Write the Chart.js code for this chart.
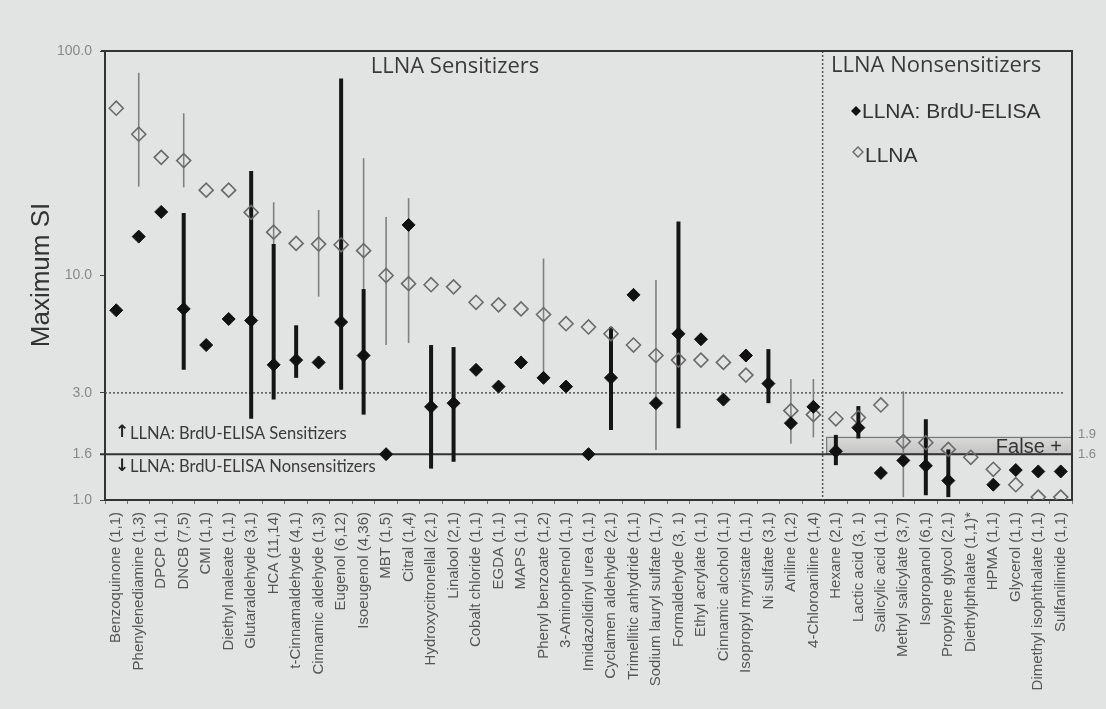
<!DOCTYPE html>
<html>
<head>
<meta charset="utf-8">
<script src="https://cdn.jsdelivr.net/npm/chart.js@4.4.0/dist/chart.umd.min.js"></script>
<style>
  html, body { margin: 0; padding: 0; background: #e2e4e3; }
  #wrap { width: 1106px; height: 709px; }
</style>
</head>
<body>
<div id="wrap"><canvas id="siChart" width="1106" height="709"></canvas></div>
<script>
// Substances (n BrdU-ELISA tests, n LLNA tests)
const categories = [
  'Benzoquinone (1,1)', 'Phenylenediamine (1,3)', 'DPCP (1,1)', 'DNCB (7,5)', 'CMI (1,1)',
  'Diethyl maleate (1,1)', 'Glutaraldehyde (3,1)', 'HCA (11,14)', 't-Cinnamaldehyde (4,1)',
  'Cinnamic aldehyde (1,3)', 'Eugenol (6,12)', 'Isoeugenol (4,36)', 'MBT (1,5)', 'Citral (1,4)',
  'Hydroxycitronellal (2,1)', 'Linalool (2,1)', 'Cobalt chloride (1,1)', 'EGDA (1,1)', 'MAPS (1,1)',
  'Phenyl benzoate (1,2)', '3-Aminophenol (1,1)', 'Imidazolidinyl urea (1,1)', 'Cyclamen aldehyde (2,1)',
  'Trimellitic anhydride (1,1)', 'Sodium lauryl sulfate (1,7)', 'Formaldehyde (3, 1)', 'Ethyl acrylate (1,1)',
  'Cinnamic alcohol (1,1)', 'Isopropyl myristate (1,1)', 'Ni sulfate (3,1)', 'Aniline (1,2)',
  '4-Chloroaniline (1,4)', 'Hexane (2,1)', 'Lactic acid (3, 1)', 'Salicylic acid (1,1)',
  'Methyl salicylate (3,7)', 'Isopropanol (6,1)', 'Propylene glycol (2,1)', 'Diethylpthalate (1,1)*',
  'HPMA (1,1)', 'Glycerol (1,1)', 'Dimethyl isophthalate (1,1)', 'Sulfanilimide (1,1)'
];

// LLNA: BrdU-ELISA max SI (filled)
const brduSI = [7.0, 14.9, 19.2, 7.1, 4.9, 6.4, 6.3, 4.0, 4.2, 4.1, 6.2, 4.4, 1.6, 16.8, 2.6, 2.7, 3.8, 3.2, 4.1, 3.5,
  3.2, 1.6, 3.5, 8.2, 2.7, 5.5, 5.2, 2.8, 4.4, 3.3, 2.2, 2.6, 1.65, 2.1, 1.32, 1.5, 1.42, 1.22, null, 1.17, 1.36, 1.34, 1.34];
// LLNA max SI (open)
const llnaSI = [55.6, 42.6, 33.6, 32.5, 24.0, 24.0, 19.1, 15.6, 13.9, 13.8, 13.7, 12.9, 10.0, 9.2, 9.1, 8.9, 7.6, 7.4, 7.1, 6.7,
  6.1, 5.9, 5.5, 4.9, 4.4, 4.2, 4.2, 4.1, 3.6, null, 2.5, 2.4, 2.3, 2.33, 2.65, 1.82, 1.80, 1.68, 1.55, 1.37, 1.17, 1.03, 1.03];

// ranges (null = single test)
const brduLow = [null, null, null, 3.8, null, null, 2.3, 2.8, 3.5, null, 3.1, 2.4, null, null, 1.38, 1.48, null, null, null, null,
  null, null, 2.05, null, null, 2.09, null, null, null, 2.7, null, null, 1.43, 1.88, null, null, 1.05, 1.03, null, null, null, null, null];
const brduHigh = [null, null, null, 19.0, null, null, 29.2, 13.8, 6.0, null, 75.5, 8.7, null, null, 4.9, 4.8, null, null, null, null,
  null, null, 5.9, null, null, 17.4, null, null, null, 4.7, null, null, 1.95, 2.62, null, null, 2.29, 1.68, null, null, null, null, null];
const llnaLow = [null, 24.9, null, 24.7, null, null, null, 11.0, null, 8.05, null, 8.0, 4.9, 5.0, null, null, null, null, null, 3.5,
  null, null, null, null, 1.67, null, null, null, null, null, 1.78, 1.90, null, null, null, 1.03, null, null, null, null, null, null, null];
const llnaHigh = [null, 80.0, null, 52.8, null, null, null, 21.2, null, 19.6, null, 33.3, 18.2, 22.1, null, null, null, null, null, 11.9,
  null, null, null, null, 9.55, null, null, null, null, null, 3.46, 3.46, null, null, null, 3.05, null, null, null, null, null, null, null];

const yTicks = [1.0, 1.6, 3.0, 10.0, 100.0];
const sensCutoff = 3.0;
const nonsensCutoff = 1.6;
const falsePosTop = 1.9;
const lastSensitizer = 31;

// boxes and reference lines under the points
const decor = {
  id: 'decor',
  beforeDatasetsDraw(chart) {
    const { ctx, chartArea: a, scales: { x, y } } = chart;
    const xb = (x.getPixelForValue(lastSensitizer) + x.getPixelForValue(lastSensitizer + 1)) / 2 - 2;
    ctx.save();
    // False + band
    const yTop = y.getPixelForValue(falsePosTop), yBot = y.getPixelForValue(nonsensCutoff);
    const g = ctx.createLinearGradient(0, yTop, 0, yBot);
    g.addColorStop(0, '#d9d9d8');
    g.addColorStop(1, '#c2c3c2');
    ctx.fillStyle = g;
    ctx.fillRect(xb + 4, yTop, a.right - xb - 4, yBot - yTop);
    ctx.strokeStyle = '#777';
    ctx.lineWidth = 1.2;
    ctx.strokeRect(xb + 4, yTop, a.right - xb - 4, yBot - yTop);
    // 3.0 dotted
    ctx.setLineDash([2, 2]);
    ctx.strokeStyle = '#555';
    ctx.lineWidth = 1.5;
    ctx.beginPath();
    ctx.moveTo(a.left, y.getPixelForValue(sensCutoff));
    ctx.lineTo(a.right - 7, y.getPixelForValue(sensCutoff));
    ctx.stroke();
    // vertical divider
    ctx.beginPath();
    ctx.moveTo(xb, a.top);
    ctx.lineTo(xb, a.bottom);
    ctx.stroke();
    ctx.setLineDash([]);
    // 1.6 solid
    ctx.strokeStyle = '#333';
    ctx.lineWidth = 2;
    ctx.beginPath();
    ctx.moveTo(a.left - 5, yBot);
    ctx.lineTo(a.right, yBot);
    ctx.stroke();
    // frame top / right
    ctx.beginPath();
    ctx.moveTo(a.left - 4, a.top);
    ctx.lineTo(a.right, a.top);
    ctx.lineTo(a.right, a.bottom);
    ctx.stroke();
    ctx.restore();
  }
};

const errorBars = {
  id: 'errorBars',
  beforeDatasetsDraw(chart) {
    const { ctx, scales: { x, y } } = chart;
    const draw = (lo, hi, color, w) => {
      lo.forEach((l, i) => {
        if (l == null) return;
        const px = x.getPixelForValue(i);
        ctx.beginPath();
        ctx.moveTo(px, y.getPixelForValue(l));
        ctx.lineTo(px, y.getPixelForValue(hi[i]));
        ctx.strokeStyle = color;
        ctx.lineWidth = w;
        ctx.stroke();
      });
    };
    ctx.save();
    draw(llnaLow, llnaHigh, '#808080', 1.6);
    draw(brduLow, brduHigh, '#151515', 4);
    ctx.restore();
  }
};

function diamond(ctx, cx, cy, r, filled) {
  ctx.beginPath();
  ctx.moveTo(cx, cy - r);
  ctx.lineTo(cx + r, cy);
  ctx.lineTo(cx, cy + r);
  ctx.lineTo(cx - r, cy);
  ctx.closePath();
  if (filled) { ctx.fillStyle = '#111'; ctx.fill(); }
  else { ctx.strokeStyle = '#666'; ctx.lineWidth = 1.4; ctx.stroke(); }
}

const texts = {
  id: 'texts',
  afterDraw(chart) {
    const { ctx, chartArea: a, scales: { y } } = chart;
    ctx.save();
    ctx.textBaseline = 'middle';
    ctx.fillStyle = '#3a3a3a';
    ctx.font = '22px "Open Sans"';
    ctx.textAlign = 'center';
    ctx.fillText('LLNA Sensitizers', 455, 67);
    ctx.textAlign = 'left';
    ctx.fillText('LLNA Nonsensitizers', 831, 66);

    // legend
    ctx.font = '21px "Liberation Sans"';
    diamond(ctx, 856, 111, 5, true);
    ctx.fillStyle = '#333';
    ctx.fillText('LLNA: BrdU-ELISA', 862, 112);
    diamond(ctx, 858, 152, 5, false);
    ctx.fillStyle = '#333';
    ctx.fillText('LLNA', 865, 156);

    // threshold notes
    ctx.font = '16.5px Lato';
    ctx.fillStyle = '#3a3a3a';
    ctx.fillText('LLNA: BrdU-ELISA Sensitizers', 130, 434);
    ctx.fillText('LLNA: BrdU-ELISA Nonsensitizers', 130, 467);
    ctx.font = 'bold 17px "DejaVu Sans"';
    ctx.fillStyle = '#222';
    ctx.fillText('\u2191', 115, 433);
    ctx.fillText('\u2193', 115, 467);

    // False + band labels
    const yTop = y.getPixelForValue(falsePosTop), yBot = y.getPixelForValue(nonsensCutoff);
    ctx.font = '20px "Liberation Sans"';
    ctx.fillStyle = '#333';
    ctx.textAlign = 'right';
    ctx.fillText('False +', a.right - 10, (yTop + yBot) / 2 + 2);
    ctx.textAlign = 'left';
    ctx.font = '13px "Liberation Sans"';
    ctx.fillStyle = '#888';
    ctx.fillText(falsePosTop.toFixed(1), a.right + 6, yTop - 3);
    ctx.fillText(nonsensCutoff.toFixed(1), a.right + 6, yBot);

    // y title
    ctx.translate(42, 275);
    ctx.rotate(-Math.PI / 2);
    ctx.textAlign = 'center';
    ctx.font = '26px "Liberation Sans"';
    ctx.fillStyle = '#333';
    ctx.fillText('Maximum SI', 0, 0);
    ctx.restore();
  }
};

new Chart(document.getElementById('siChart'), {
  type: 'line',
  data: {
    labels: categories,
    datasets: [
      {
        label: 'LLNA: BrdU-ELISA', data: brduSI, showLine: false, order: 1,
        pointStyle: 'rectRot', pointRadius: 6.5,
        pointBackgroundColor: '#111', pointBorderColor: '#111', pointBorderWidth: 1
      },
      {
        label: 'LLNA', data: llnaSI, showLine: false, order: 2,
        pointStyle: 'rectRot', pointRadius: 7,
        pointBackgroundColor: 'rgba(0,0,0,0)', pointBorderColor: '#6a6a6a', pointBorderWidth: 1.6
      }
    ]
  },
  options: {
    responsive: false,
    animation: false,
    devicePixelRatio: 1,
    layout: { padding: { top: 51, right: 34, left: 0, bottom: 0 } },
    plugins: { legend: { display: false }, tooltip: { enabled: false } },
    scales: {
      x: {
        offset: true,
        grid: { drawOnChartArea: false, offset: true, tickLength: 4, color: '#777' },
        border: { color: '#333', width: 2 },
        ticks: {
          autoSkip: false, minRotation: 90, maxRotation: 90, padding: 8,
          color: '#555', font: { family: 'Liberation Sans', size: 15 }
        },
        afterFit(s) { s.height = 209; }
      },
      y: {
        type: 'logarithmic', min: 1, max: 100,
        afterBuildTicks(s) { s.ticks = yTicks.map(v => ({ value: v })); },
        ticks: {
          callback: v => Number(v).toFixed(1),
          color: '#888', font: { family: 'Liberation Sans', size: 14 }, padding: 8
        },
        grid: { drawOnChartArea: false, tickLength: 5, color: '#444' },
        border: { color: '#333', width: 2 },
        afterFit(s) { s.width = 105; }
      }
    }
  },
  plugins: [decor, errorBars, texts]
});
</script>
</body>
</html>
